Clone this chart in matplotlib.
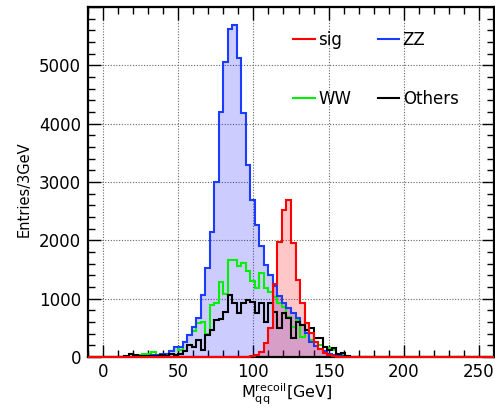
import numpy as np
import matplotlib
matplotlib.use("Agg")
import matplotlib.pyplot as plt
from matplotlib.ticker import MultipleLocator, FuncFormatter
from matplotlib.lines import Line2D

# ── DATA: 3 GeV bins from -10 to 260 GeV ───────────────────
bin_edges = np.arange(-10, 261, 3)
first_bin = 7          # bin starting at 11 GeV

zz_counts = [0, 0, 5, 10, 15, 20, 25, 30, 35, 45, 60, 110, 180, 180, 260, 380,
             520, 665, 1065, 1520, 2150, 3000, 4200, 5060, 5620, 5690, 5130,
             4180, 3300, 2700, 2270, 1900, 1580, 1410, 1210, 1040, 920, 835,
             750, 665, 550, 410, 260, 190, 140, 100, 60, 40, 20, 10, 5, 0, 0]

sig_counts = [0, 0, 0, 0, 0, 0, 0, 0, 0, 0, 0, 0, 0, 0, 0, 0,
              0, 0, 0, 0, 0, 0, 0, 0, 0, 0, 0,
              0, 0, 10, 30, 90, 240, 500, 1250, 1980, 2525, 2700,
              1950, 1320, 920, 580, 405, 265, 140, 75, 35, 10, 5, 0, 0, 0, 0]

ww_counts = [0, 20, 45, 20, 30, 55, 55, 80, 40, 35, 50, 110, 170, 120, 250, 380,
             450, 580, 600, 400, 900, 920, 1290, 1080, 1670, 1670, 1565,
             1610, 1480, 1300, 1180, 1435, 1180, 1120, 1035, 920, 865, 690,
             520, 635, 350, 465, 290, 265, 205, 180, 150, 120, 60, 30, 15, 5, 0]

oth_counts = [0, 10, 50, 30, 15, 25, 25, 20, 25, 30, 25, 60, 40, 50, 100, 200,
              180, 290, 120, 380, 465, 635, 660, 780, 1065, 920, 750,
              920, 980, 950, 750, 920, 605, 920, 780, 490, 750, 665,
              320, 605, 550, 465, 490, 320, 320, 180, 120, 150, 60, 75, 10, 0, 0]

labels = ["sig", "ZZ", "WW", "Others"]
colors = ["#ff0000", "#1a3cff", "#00f000", "#000000"]


def full(counts):
    h = np.zeros(len(bin_edges) - 1)
    h[first_bin:first_bin + len(counts)] = counts
    return h


sig, zz, ww, oth = full(sig_counts), full(zz_counts), full(ww_counts), full(oth_counts)

# ── CANVAS ─────────────────────────────────────────────────
fig = plt.figure(figsize=(4.95, 4.08), dpi=100)
ax = fig.add_axes([88 / 495, 51 / 408, 406 / 495, 350 / 408])
ax.set_axisbelow(True)

# ── HISTOGRAMS ─────────────────────────────────────────────
ax.stairs(zz, bin_edges, fill=True, color="#0000ff", alpha=0.2, lw=0)
ax.stairs(sig, bin_edges, fill=True, color="#ff0000", alpha=0.22, lw=0)
ax.stairs(ww, bin_edges, color=colors[2], lw=1.5)
ax.stairs(zz, bin_edges, color=colors[1], lw=1.5)
ax.stairs(oth, bin_edges, color=colors[3], lw=1.5)
ax.stairs(sig, bin_edges, color=colors[0], lw=1.5, clip_on=False, zorder=3)

# ── AXES ───────────────────────────────────────────────────
ax.set_xlim(-10, 260)
ax.set_ylim(0, 6000)
ax.xaxis.set_major_locator(MultipleLocator(50))
ax.xaxis.set_minor_locator(MultipleLocator(10))
ax.yaxis.set_major_locator(MultipleLocator(1000))
ax.yaxis.set_minor_locator(MultipleLocator(200))
ax.yaxis.set_major_formatter(FuncFormatter(lambda v, p: "" if v >= 6000 else f"{v:.0f}"))
ax.tick_params(which="both", direction="in", top=True, right=True, labelsize=12)
ax.tick_params(which="major", length=9, width=1)
ax.tick_params(which="minor", length=5, width=1)
ax.tick_params(axis="x", pad=4)
ax.tick_params(axis="y", pad=5)
for s in ax.spines.values():
    s.set_linewidth(1.6)
ax.grid(True, which="major", linestyle=(0, (1, 1.5)), color="#666666", lw=0.8)

ax.set_xlabel(r"$\mathregular{M_{qq}^{recoil}}$[GeV]", fontsize=11.5)
ax.xaxis.set_label_coords(0.49, -0.072)
ax.set_ylabel("Entries/3GeV", fontsize=10.5)
ax.yaxis.set_label_coords(-0.14, 0.48)

# ── LEGEND ─────────────────────────────────────────────────
handles = [Line2D([], [], color=c, lw=1.5) for c in colors]
order = [0, 2, 1, 3]
ax.legend([handles[i] for i in order], [labels[i] for i in order],
          ncol=2, frameon=False, fontsize=12, loc="upper left",
          bbox_to_anchor=(0.505, 0.932), borderpad=0, borderaxespad=0,
          handlelength=1.3, handletextpad=0.2, labelspacing=2.45,
          columnspacing=1.6)

plt.savefig("out.png", dpi=100)
